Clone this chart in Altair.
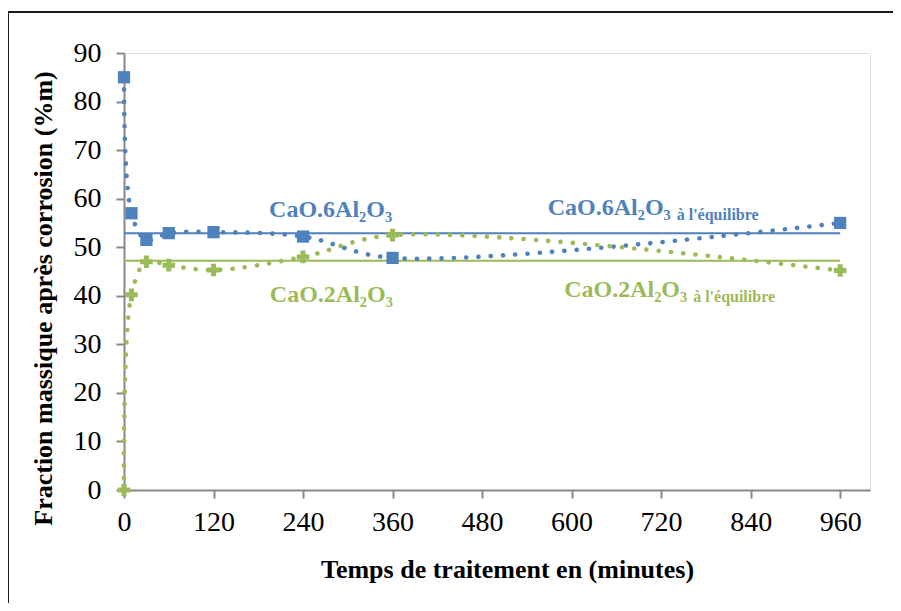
import altair as alt
import pandas as pd

# ---- data ----
time_min = [0, 10, 30, 60, 120, 240, 360, 960]
cao6 = [85.0, 57.0, 51.5, 52.9, 53.1, 52.2, 47.8, 55.0]
cao2 = [0.0, 40.2, 47.0, 46.3, 45.3, 48.0, 52.5, 45.2]

eq_names = ["CaO.6Al2O3", "CaO.2Al2O3"]
eq_values = [52.9, 47.2]
eq_start = [0, 0]
eq_end = [960, 960]

x_ticks = [0, 120, 240, 360, 480, 600, 720, 840, 960]
y_ticks = [0, 10, 20, 30, 40, 50, 60, 70, 80, 90]

label_main = ["CaO.6Al₂O₃", "CaO.2Al₂O₃", "CaO.6Al₂O₃", "CaO.2Al₂O₃"]
label_x = [277, 278, 568, 590]
label_y = [56.3, 38.7, 56.6, 39.7]
label_align = ["center", "center", "left", "left"]
label_series = ["CaO.6Al2O3", "CaO.2Al2O3", "CaO.6Al2O3", "CaO.2Al2O3"]

suffix_text = ["à l'équilibre", "à l'équilibre"]
suffix_x = [568, 590]
suffix_y = [56.6, 39.7]
suffix_series = ["CaO.6Al2O3", "CaO.2Al2O3"]

BLUE = "#4F81BD"
GREEN = "#9BBB59"
FONT = "Liberation Serif"

series_df = pd.DataFrame({
    "t": time_min * 2,
    "v": cao6 + cao2,
    "s": ["CaO.6Al2O3"] * len(time_min) + ["CaO.2Al2O3"] * len(time_min),
})
eq_df = pd.DataFrame({"s": eq_names, "v": eq_values, "x0": eq_start, "x1": eq_end})
lab_df = pd.DataFrame({"text": label_main, "x": label_x, "y": label_y,
                       "align": label_align, "s": label_series})
suf_df = pd.DataFrame({"text": suffix_text, "x": suffix_x, "y": suffix_y, "s": suffix_series})

color_scale = alt.Scale(domain=["CaO.6Al2O3", "CaO.2Al2O3"], range=[BLUE, GREEN])

xs = alt.Scale(domain=[0, 1000], nice=False)
ys = alt.Scale(domain=[0, 90], nice=False)

x_axis = alt.Axis(values=x_ticks, title="Temps de traitement en (minutes)", grid=False,
                  labelFont=FONT, labelFontSize=28, labelColor="black", labelPadding=10,
                  labelFlush=False, labelOverlap=False,
                  tickSize=8, tickColor="#888888", tickWidth=2,
                  domainColor="#888888", domainWidth=2,
                  titleFont=FONT, titleFontSize=26, titleFontWeight="bold", titleColor="black",
                  titleX=383, titleY=87, titleBaseline="alphabetic", titleAnchor="middle")
y_axis = alt.Axis(values=y_ticks, title="Fraction massique après corrosion (%m)", grid=False,
                  labelFont=FONT, labelFontSize=28, labelColor="black", labelPadding=15,
                  labelFlush=False, labelOverlap=False,
                  tickSize=8, tickColor="#888888", tickWidth=2,
                  domainColor="#888888", domainWidth=2,
                  titleFont=FONT, titleFontSize=26, titleFontWeight="bold", titleColor="black",
                  titleX=-73, titleY=245, titleBaseline="alphabetic", titleAngle=-90,
                  titleAnchor="middle")

base = alt.Chart(series_df)

curves = base.mark_line(interpolate="catmull-rom", strokeWidth=4.6, strokeCap="round",
                        strokeDash=[0.1, 12.2]).encode(
    x=alt.X("t:Q", scale=xs, axis=x_axis),
    y=alt.Y("v:Q", scale=ys, axis=y_axis),
    color=alt.Color("s:N", scale=color_scale, legend=None),
    detail="s:N",
)

pts_blue = alt.Chart(series_df).transform_filter(alt.datum.s == "CaO.6Al2O3").mark_point(
    shape="square", filled=True, size=150, opacity=1, color=BLUE).encode(
    x=alt.X("t:Q", scale=xs), y=alt.Y("v:Q", scale=ys))
pts_green = alt.Chart(series_df).transform_filter(alt.datum.s == "CaO.2Al2O3").mark_point(
    shape="cross", filled=True, size=160, opacity=1, color=GREEN).encode(
    x=alt.X("t:Q", scale=xs), y=alt.Y("v:Q", scale=ys))

eq_lines = alt.Chart(eq_df).mark_rule(strokeWidth=2).encode(
    x=alt.X("x0:Q", scale=xs), x2="x1:Q",
    y=alt.Y("v:Q", scale=ys),
    color=alt.Color("s:N", scale=color_scale, legend=None),
)

labels_c = alt.Chart(lab_df).transform_filter(alt.datum.align == "center").mark_text(
    font=FONT, fontSize=24, fontWeight="bold", align="center", baseline="alphabetic").encode(
    x=alt.X("x:Q", scale=xs), y=alt.Y("y:Q", scale=ys), text="text:N",
    color=alt.Color("s:N", scale=color_scale, legend=None))
labels_l = alt.Chart(lab_df).transform_filter(alt.datum.align == "left").mark_text(
    font=FONT, fontSize=24, fontWeight="bold", align="left", baseline="alphabetic").encode(
    x=alt.X("x:Q", scale=xs), y=alt.Y("y:Q", scale=ys), text="text:N",
    color=alt.Color("s:N", scale=color_scale, legend=None))
suffix = alt.Chart(suf_df).mark_text(
    font=FONT, fontSize=16, fontWeight="bold", align="left", baseline="alphabetic",
    dx=129, dy=5).encode(
    x=alt.X("x:Q", scale=xs), y=alt.Y("y:Q", scale=ys), text="text:N",
    color=alt.Color("s:N", scale=color_scale, legend=None))

frame_df = pd.DataFrame({"k": [1]})
frame_top = alt.Chart(frame_df).mark_rule(color="#1a1a1a", strokeWidth=2).encode(
    x=alt.value(-116), x2=alt.value(800), y=alt.value(-41))
frame_left = alt.Chart(frame_df).mark_rule(color="#1a1a1a", strokeWidth=2).encode(
    x=alt.value(-116), y=alt.value(-41), y2=alt.value(600))

chart = alt.layer(frame_top, frame_left, eq_lines, curves, pts_blue, pts_green,
                  labels_c, labels_l, suffix).properties(
    width=746, height=437,
    autosize=alt.AutoSizeParams(type="none"),
    padding={"left": 116, "top": 45, "right": 23, "bottom": 113},
).configure_view(stroke=None).configure(background="white")

chart.save("out.html", embed_options={"renderer": "svg", "actions": False})
